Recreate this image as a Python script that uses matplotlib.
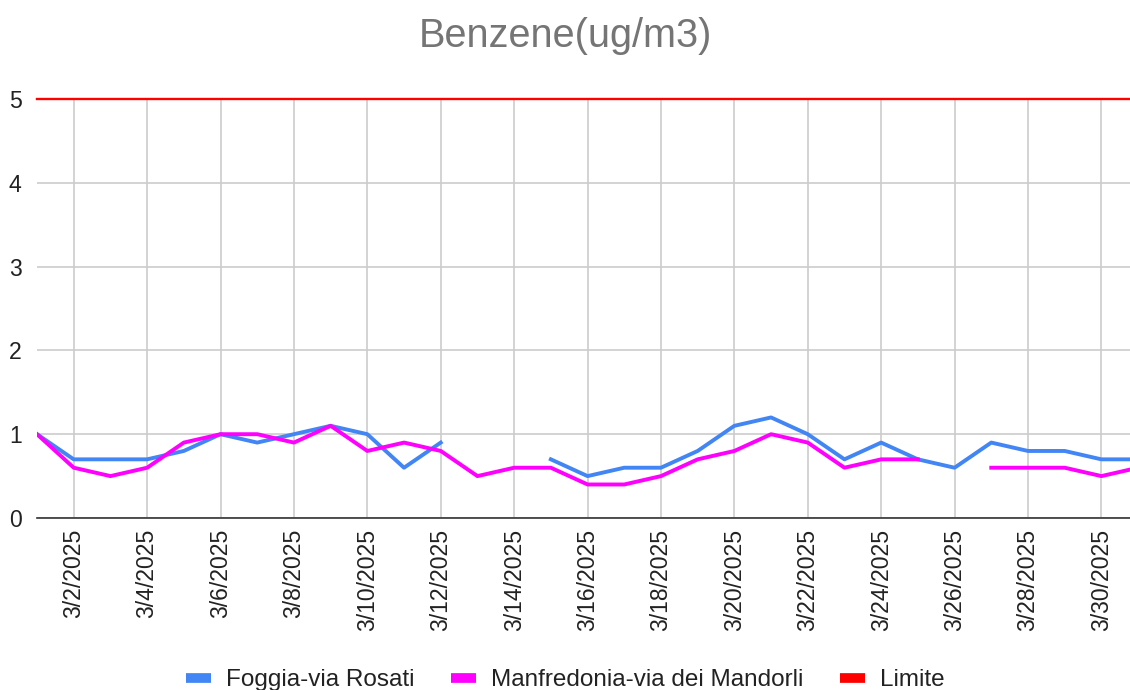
import matplotlib
matplotlib.use('Agg')
from matplotlib import pyplot as plt
from matplotlib.lines import Line2D
import numpy as np
import pandas as pd

plt.rcParams['font.family'] = ['Liberation Sans', 'DejaVu Sans']

nan = np.nan
days = pd.date_range('2025-03-01', '2025-03-31', freq='D')
foggia = [1.0, 0.7, 0.7, 0.7, 0.8, 1.0, 0.9, 1.0, 1.1, 1.0, 0.6, 0.9, nan, nan, 0.7,
          0.5, 0.6, 0.6, 0.8, 1.1, 1.2, 1.0, 0.7, 0.9, 0.7, 0.6, 0.9, 0.8, 0.8, 0.7, 0.7]
manfredonia = [1.0, 0.6, 0.5, 0.6, 0.9, 1.0, 1.0, 0.9, 1.1, 0.8, 0.9, 0.8, 0.5, 0.6, 0.6,
               0.4, 0.4, 0.5, 0.7, 0.8, 1.0, 0.9, 0.6, 0.7, 0.7, nan, 0.6, 0.6, 0.6, 0.5, 0.6]
limite = [5] * 31
names = ['Foggia-via Rosati', 'Manfredonia-via dei Mandorli', 'Limite']
colors = ['#4285F4', '#FF00FF', '#FF0000']

tick_days = days[1::2]
tick_labels = [f'{d.month}/{d.day}/{d.year}' for d in tick_days]

fig = plt.figure(figsize=(11.3, 6.9), dpi=100)
ax = fig.add_axes([37 / 1130, 1 - 518 / 690, 1 - 37 / 1130, (518 - 99) / 690])

ax.plot(days, foggia, color=colors[0], lw=2.8, solid_joinstyle='round', zorder=3)
ax.plot(days, manfredonia, color=colors[1], lw=2.8, solid_joinstyle='round', zorder=3)
ax.plot(days, limite, color=colors[2], lw=1.7, zorder=4, clip_on=False)

ax.set_xlim(days[0], days[0] + pd.Timedelta(days=29.78))
ax.set_ylim(0, 5)
ax.set_yticks([0, 1, 2, 3, 4, 5])
ax.set_xticks(tick_days)
ax.set_xticklabels(tick_labels, rotation=90)
ax.tick_params(axis='both', length=0, labelsize=16.6, colors='#222222')
ax.tick_params(axis='y', pad=11)
ax.tick_params(axis='x', pad=8)

ax.grid(True, color='#cccccc', lw=1.2)
ax.set_axisbelow(True)
for s in ['top', 'right', 'left']:
    ax.spines[s].set_visible(False)
ax.spines['bottom'].set_color('#333333')
ax.spines['bottom'].set_linewidth(1.2)
ax.spines['bottom'].set_zorder(5)

fig.text(0.5, 1 - 36 / 690, 'Benzene(ug/m3)', ha='center', va='center',
         fontsize=28.5, color='#757575')

handles = [Line2D([], [], color=c, lw=7, solid_capstyle='butt') for c in colors]
fig.legend(handles, names, loc='center', bbox_to_anchor=(0.5, 1 - 680 / 690), ncol=3,
           frameon=False, fontsize=17.5, handlelength=1.05, handletextpad=0.6,
           columnspacing=1.5, labelcolor='#222222')

plt.savefig('out.png', dpi=100)
